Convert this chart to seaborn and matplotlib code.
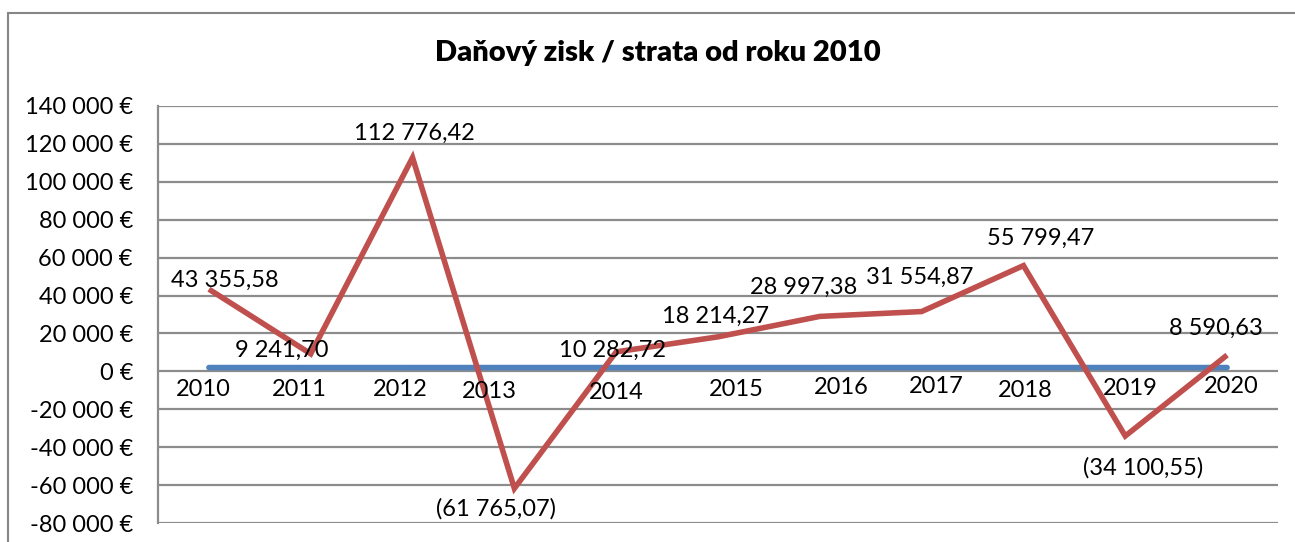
import numpy as np
import pandas as pd
import matplotlib
matplotlib.use("Agg")
import matplotlib.pyplot as plt
from matplotlib.patches import Rectangle
from matplotlib.ticker import FuncFormatter, MultipleLocator
import seaborn as sns

# Data
YEARS = [2010, 2011, 2012, 2013, 2014, 2015, 2016, 2017, 2018, 2019, 2020]
PROFIT = [43355.58, 9241.70, 112776.42, -61765.07, 10282.72, 18214.27,
          28997.38, 31554.87, 55799.47, -34100.55, 8590.63]

# label offsets (pixels, x right / y down) relative to the point
PROFIT_LABEL_OFFSETS = [(16, -9), (-29, -4), (2, -24), (-18, 20), (-4, -2), (-3, -20),
                        (-16, -29), (-2, -34), (17, -27), (18, 32), (-11, -27)]
YEAR_LABEL_OFFSETS = [(-6, 22), (-11, 22), (-12, 22), (-25, 24), (0, 25), (18, 22),
                      (21, 20), (15, 19), (2, 23), (5, 21), (4, 19)]

RED = "#C0504D"
BLUE = "#4F81BD"
GRID = "#8C8C8C"

sns.set_theme(style="white")
plt.rcParams['font.family'] = ['Lato', 'DejaVu Sans']


def fmt_axis(v, pos):
    s = f"{abs(int(round(v))):,}".replace(",", " ")
    return ("-" if v < 0 else "") + s + " €"


def fmt_label(v):
    s = f"{abs(v):,.2f}".replace(",", " ").replace(".", ",")
    return f"({s})" if v < 0 else s


df = pd.DataFrame({"idx": np.arange(len(YEARS)), "year": YEARS, "profit": PROFIT})

fig = plt.figure(figsize=(12.95, 5.42), dpi=100)
W, H = 1295, 542
ax = fig.add_axes([158 / W, 1 - 523 / H, (1278 - 158) / W, (523 - 106) / H])

sns.lineplot(data=df, x="idx", y="year", ax=ax, color=BLUE, lw=4, solid_capstyle="round")
sns.lineplot(data=df, x="idx", y="profit", ax=ax, color=RED, lw=4,
             solid_joinstyle="miter", solid_capstyle="butt")

ax.set_xlim(-0.5, len(YEARS) - 0.5)
ax.set_ylim(-80000, 140000)
ax.yaxis.set_major_locator(MultipleLocator(20000))
ax.yaxis.set_major_formatter(FuncFormatter(fmt_axis))
ax.set_xticks([])
ax.set_xlabel("")
ax.set_ylabel("")
ax.tick_params(axis="y", length=0, pad=18, labelsize=17, colors="black")
ax.grid(axis="y", color=GRID, lw=1.6)
ax.set_axisbelow(True)
for side in ["top", "right", "bottom"]:
    ax.spines[side].set_visible(False)
ax.spines["left"].set_color(GRID)
ax.spines["left"].set_linewidth(1.6)

k = 0.72  # px -> pt
for i, (v, (dx, dy)) in enumerate(zip(PROFIT, PROFIT_LABEL_OFFSETS)):
    ax.annotate(fmt_label(v), (i, v), xytext=(dx * k, -dy * k), textcoords="offset points",
                ha="center", va="center", fontsize=17, color="black")
for i, (yr, (dx, dy)) in enumerate(zip(YEARS, YEAR_LABEL_OFFSETS)):
    ax.annotate(str(yr), (i, yr), xytext=(dx * k, -dy * k), textcoords="offset points",
                ha="center", va="center", fontsize=17, color="black")

fig.text(658 / W, 1 - 53 / H, "Daňový zisk / strata od roku 2010", ha="center", va="center",
         fontsize=21, fontweight="heavy", color="black")

fig.patches.append(Rectangle((8 / W, -0.1), 1.2, 1 - 13 / H + 0.1, transform=fig.transFigure,
                             fill=False, edgecolor="#868686", lw=1.5))

fig.savefig("out.png", dpi=100)
